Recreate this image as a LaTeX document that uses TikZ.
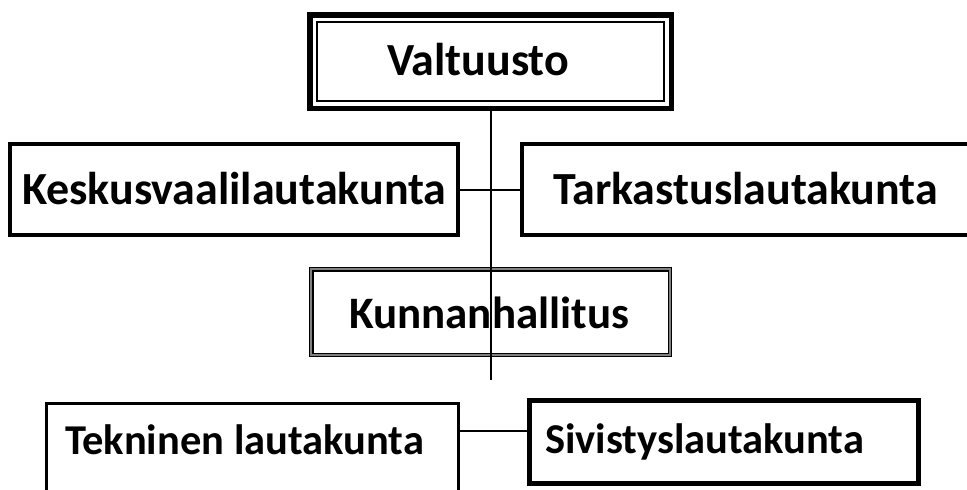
\documentclass[tikz,border=0pt]{standalone}
\usepackage{fontspec}
\setmainfont{Carlito}
\begin{document}
\begin{tikzpicture}[x=1pt,y=-1pt,
  box/.style={draw, rectangle, inner sep=0pt, outer sep=0pt},
  lbl/.style={font=\fontsize{46}{54}\selectfont\bfseries, inner sep=0pt, outer sep=0pt, anchor=base west},
  smalllbl/.style={lbl, font=\fontsize{42.5}{50}\selectfont\bfseries},
  conn/.style={line width=2pt}]
\useasboundingbox (0,0) rectangle (967,490);
% boxes
\node[box, line width=5.5pt, minimum width=361.5pt, minimum height=93.5pt] (val) at (490.5,61.5) {};
\draw[line width=2pt] ([xshift=7pt,yshift=-7pt]val.north west) rectangle ([xshift=-7pt,yshift=7pt]val.south east);
\node[box, line width=4pt, minimum width=448pt, minimum height=91pt] (kes) at (234,189.5) {};
\node[box, line width=4pt, minimum width=448pt, minimum height=91pt] (tar) at (746,189.5) {};
\node[box, line width=4.5pt, minimum width=358.5pt, minimum height=85.5pt] (kun) at (490.5,312) {};
\draw[gray, line width=2pt] (kun.north west) rectangle (kun.south east);
\node[box, line width=3pt, minimum width=412pt, minimum height=116.5pt] (tek) at (252.5,461.75) {};
\node[box, line width=5pt, minimum width=389pt, minimum height=83pt] (siv) at (724,442) {};
% texts
\node[lbl] (val-t) at (387,75) {Valtuusto};
\node[lbl] (kes-t) at (22,204) {Keskusvaalilautakunta};
\node[lbl] (tar-t) at (553,204) {Tarkastuslautakunta};
\node[lbl, font=\fontsize{45}{54}\selectfont\bfseries] (kun-t) at (349,328) {Kunnanhallitus};
\node[smalllbl] (tek-t) at (65,454) {Tekninen lautakunta};
\node[smalllbl] (siv-t) at (545,453) {Sivistyslautakunta};
% connectors
\coordinate (trunk-end) at (490.5,380);
\draw[conn] (val.south) -- (trunk-end);
\draw[conn] (kes) -- (tar);
\path ([yshift=11pt]siv.west) coordinate (sivc);
\draw[conn] (sivc -| tek.east) -- (sivc);
\end{tikzpicture}
\end{document}
